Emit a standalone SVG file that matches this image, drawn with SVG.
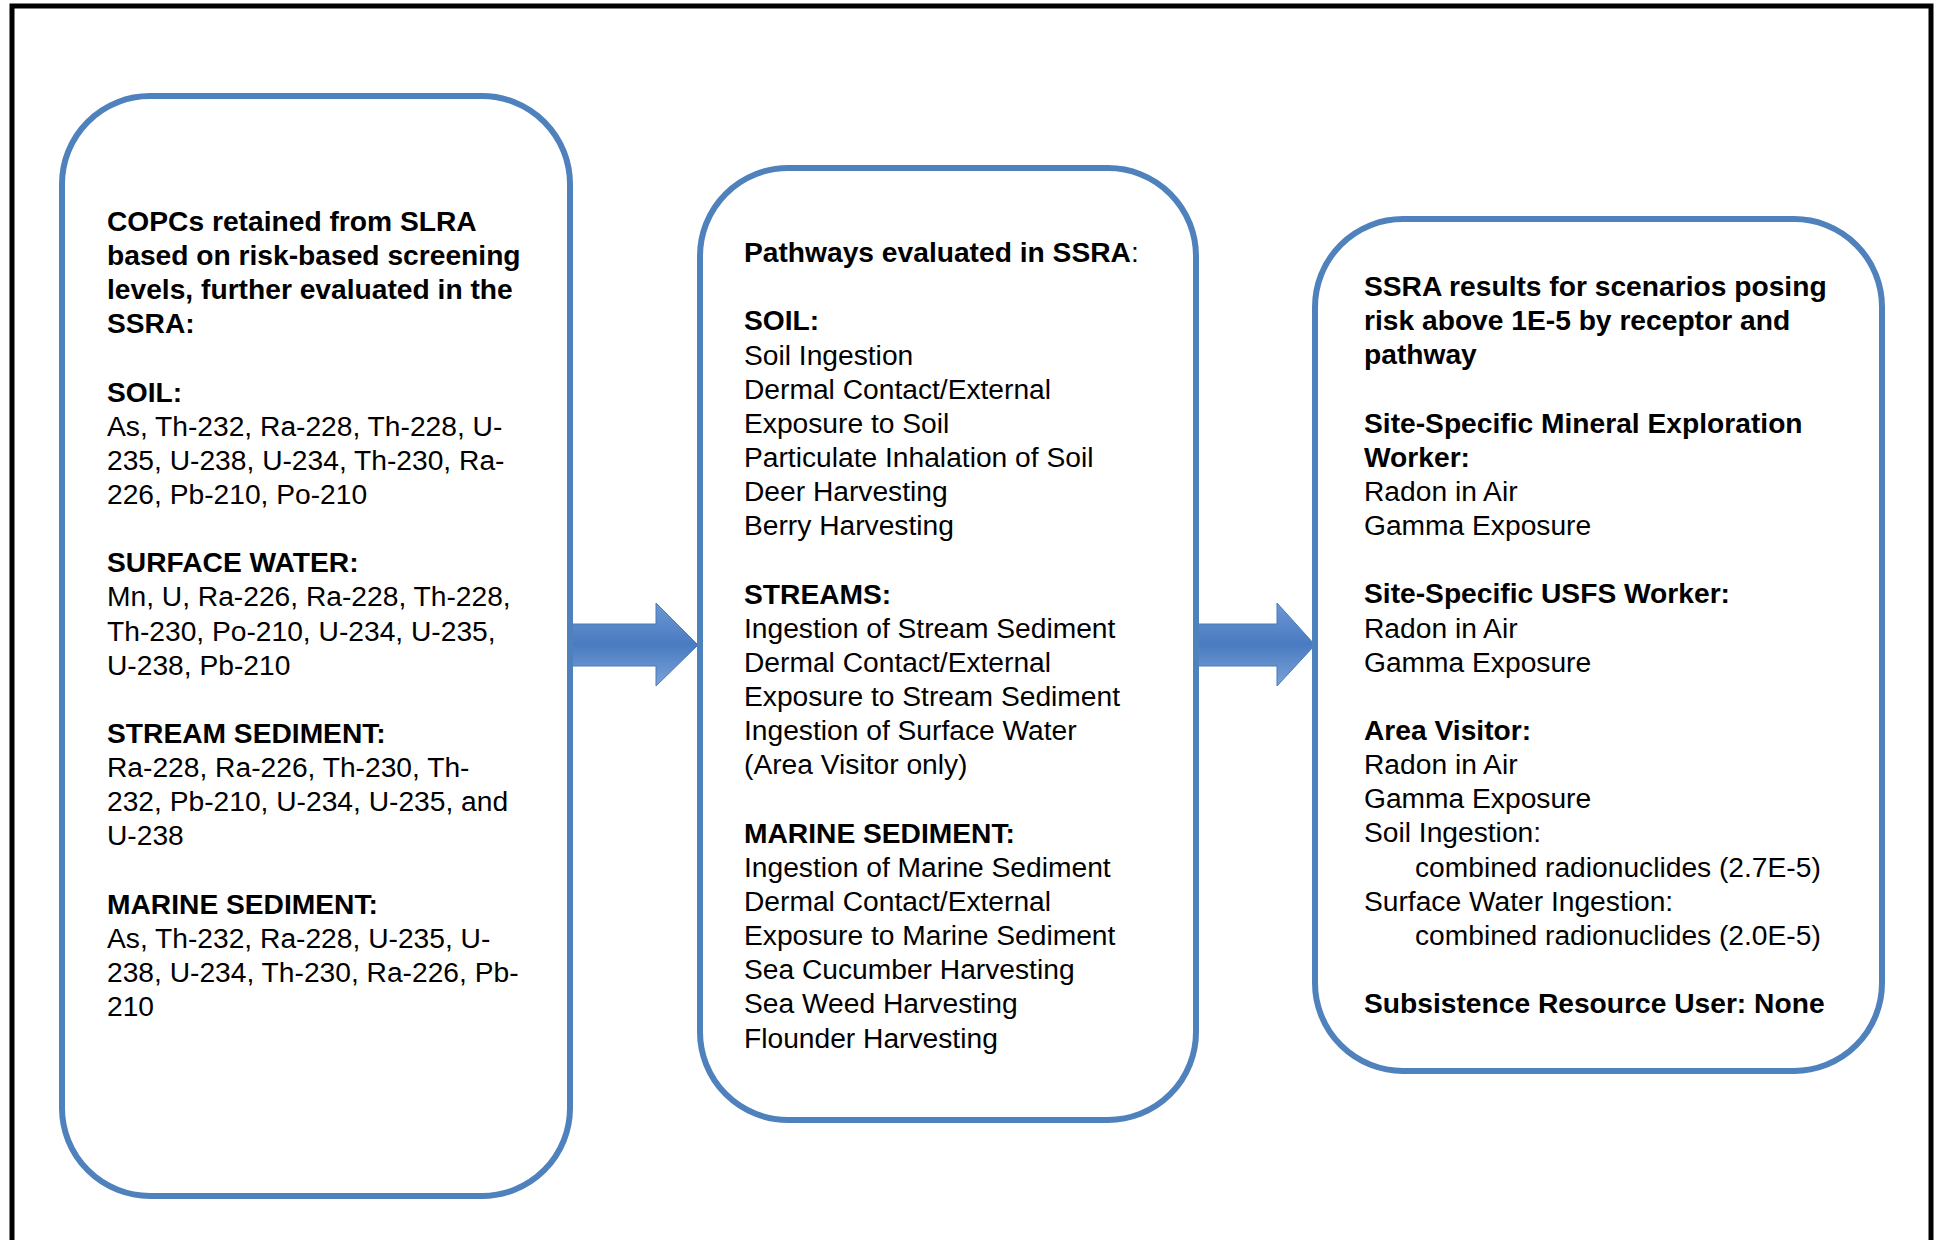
<svg xmlns="http://www.w3.org/2000/svg" width="1939" height="1240" viewBox="0 0 1939 1240">
<style>
.box{fill:#fff;stroke:#4f81bd;stroke-width:6}
text{font-family:"Liberation Sans",Arial,sans-serif;font-size:28.2px;fill:#000}
.b{font-weight:bold}
.arrow{fill:url(#ag);stroke:#4a7ab8;stroke-width:1}
</style>
<defs>
<linearGradient id="ag" x1="0" y1="0" x2="0" y2="1">
<stop offset="0" stop-color="#6b97d4"/>
<stop offset="0.5" stop-color="#4a7bc1"/>
<stop offset="1" stop-color="#7aa2d8"/>
</linearGradient>
</defs>
<rect width="1939" height="1240" fill="#fff"/>
<path d="M12 1240 V6 H1931 V1240" fill="none" stroke="#000" stroke-width="5"/>
<g id="connectors">
<path class="arrow" d="M570 624 H656 V603 L698 645 L656 686 V666 H570 Z"/>
<path class="arrow" d="M1196 624 H1277 V603 L1315 645 L1277 686 V666 H1196 Z"/>
</g>
<g id="node-copcs">
<rect class="box" x="62" y="96" width="508" height="1100" rx="88" ry="88"/>
<text class="b" x="107" y="230.7">COPCs retained from SLRA</text>
<text class="b" x="107" y="264.9">based on risk-based screening</text>
<text class="b" x="107" y="299">levels, further evaluated in the</text>
<text class="b" x="107" y="333.2">SSRA:</text>
<text class="b" x="107" y="401.5">SOIL:</text>
<text x="107" y="435.6">As, Th-232, Ra-228, Th-228, U-</text>
<text x="107" y="469.8">235, U-238, U-234, Th-230, Ra-</text>
<text x="107" y="503.9">226, Pb-210, Po-210</text>
<text class="b" x="107" y="572.2">SURFACE WATER:</text>
<text x="107" y="606.4">Mn, U, Ra-226, Ra-228, Th-228,</text>
<text x="107" y="640.5">Th-230, Po-210, U-234, U-235,</text>
<text x="107" y="674.7">U-238, Pb-210</text>
<text class="b" x="107" y="743">STREAM SEDIMENT:</text>
<text x="107" y="777.1">Ra-228, Ra-226, Th-230, Th-</text>
<text x="107" y="811.3">232, Pb-210, U-234, U-235, and</text>
<text x="107" y="845.4">U-238</text>
<text class="b" x="107" y="913.7">MARINE SEDIMENT:</text>
<text x="107" y="947.9">As, Th-232, Ra-228, U-235, U-</text>
<text x="107" y="982">238, U-234, Th-230, Ra-226, Pb-</text>
<text x="107" y="1016.2">210</text>
</g>
<g id="node-pathways">
<rect class="box" x="700" y="168" width="496" height="952" rx="88" ry="88"/>
<text x="744" y="262"><tspan class="b">Pathways evaluated in SSRA</tspan>:</text>
<text class="b" x="744" y="330.3">SOIL:</text>
<text x="744" y="364.5">Soil Ingestion</text>
<text x="744" y="398.6">Dermal Contact/External</text>
<text x="744" y="432.8">Exposure to Soil</text>
<text x="744" y="466.9">Particulate Inhalation of Soil</text>
<text x="744" y="501.1">Deer Harvesting</text>
<text x="744" y="535.2">Berry Harvesting</text>
<text class="b" x="744" y="603.5">STREAMS:</text>
<text x="744" y="637.7">Ingestion of Stream Sediment</text>
<text x="744" y="671.8">Dermal Contact/External</text>
<text x="744" y="706">Exposure to Stream Sediment</text>
<text x="744" y="740.1">Ingestion of Surface Water</text>
<text x="744" y="774.3">(Area Visitor only)</text>
<text class="b" x="744" y="842.6">MARINE SEDIMENT:</text>
<text x="744" y="876.7">Ingestion of Marine Sediment</text>
<text x="744" y="910.9">Dermal Contact/External</text>
<text x="744" y="945">Exposure to Marine Sediment</text>
<text x="744" y="979.2">Sea Cucumber Harvesting</text>
<text x="744" y="1013.3">Sea Weed Harvesting</text>
<text x="744" y="1047.5">Flounder Harvesting</text>
</g>
<g id="node-results">
<rect class="box" x="1315" y="219" width="567" height="852" rx="88" ry="88"/>
<text class="b" x="1364" y="296">SSRA results for scenarios posing</text>
<text class="b" x="1364" y="330.2">risk above 1E-5 by receptor and</text>
<text class="b" x="1364" y="364.3">pathway</text>
<text class="b" x="1364" y="432.6">Site-Specific Mineral Exploration</text>
<text class="b" x="1364" y="466.8">Worker:</text>
<text x="1364" y="500.9">Radon in Air</text>
<text x="1364" y="535.1">Gamma Exposure</text>
<text class="b" x="1364" y="603.4">Site-Specific USFS Worker:</text>
<text x="1364" y="637.5">Radon in Air</text>
<text x="1364" y="671.7">Gamma Exposure</text>
<text class="b" x="1364" y="740">Area Visitor:</text>
<text x="1364" y="774.1">Radon in Air</text>
<text x="1364" y="808.3">Gamma Exposure</text>
<text x="1364" y="842.4">Soil Ingestion:</text>
<text x="1415" y="876.6">combined radionuclides (2.7E-5)</text>
<text x="1364" y="910.7">Surface Water Ingestion:</text>
<text x="1415" y="944.9">combined radionuclides (2.0E-5)</text>
<text class="b" x="1364" y="1013.2">Subsistence Resource User: None</text>
</g>
</svg>
